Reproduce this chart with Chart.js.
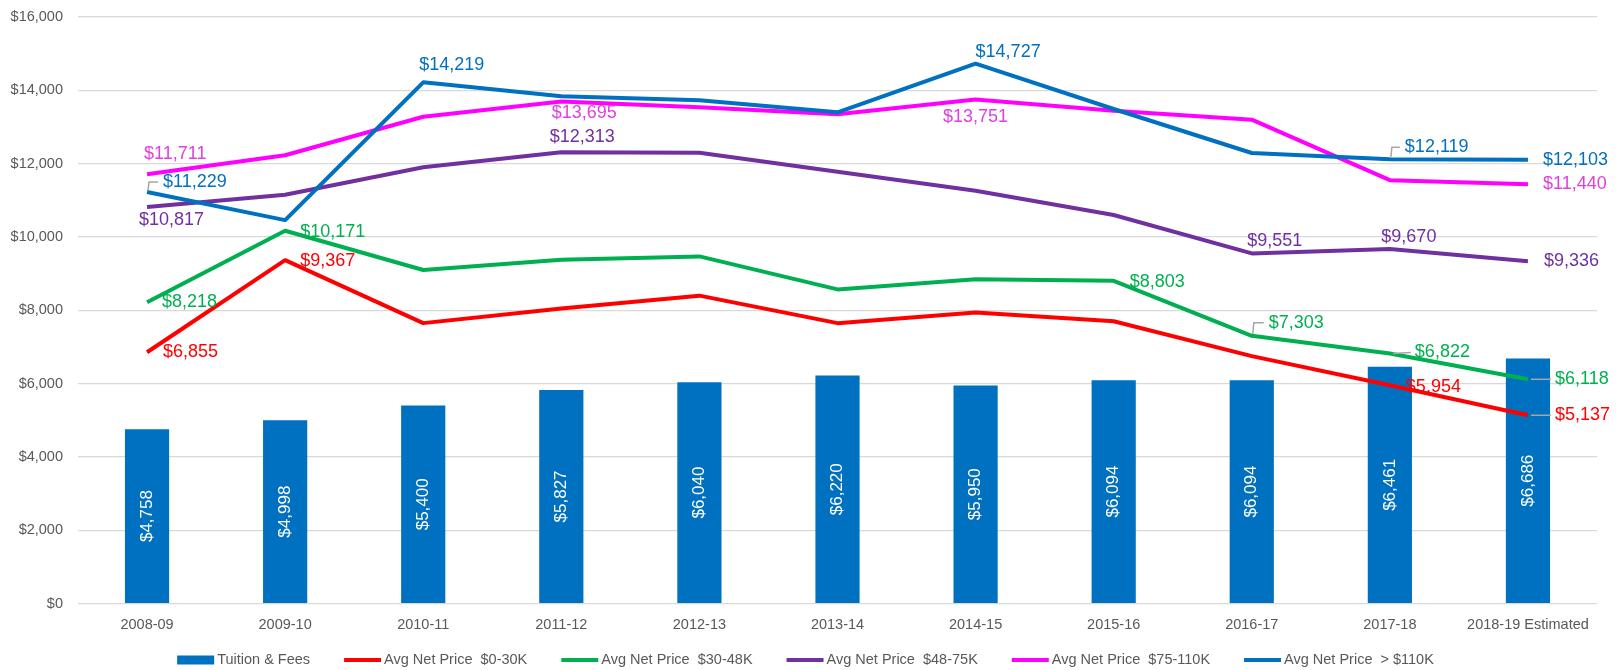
<!DOCTYPE html>
<html>
<head>
<meta charset="utf-8">
<script src="https://cdn.jsdelivr.net/npm/chart.js@4.4.1/dist/chart.umd.min.js"></script>
<style>
  html, body { margin: 0; padding: 0; background: #fff; }
  #wrap { width: 1623px; height: 670px; position: relative; }
</style>
</head>
<body>
<div id="wrap"><canvas id="tuitionChart"></canvas></div>
<script>
// Data
const years = ['2008-09', '2009-10', '2010-11', '2011-12', '2012-13', '2013-14',
  '2014-15', '2015-16', '2016-17', '2017-18', '2018-19 Estimated'];
const tuitionFees = [4758, 4998, 5400, 5827, 6040, 6220, 5950, 6094, 6094, 6461, 6686];
const net0to30 = [6855, 9367, 7650, 8050, 8400, 7650, 7940, 7700, 6750, 5954, 5137];
const net30to48 = [8218, 10171, 9100, 9380, 9470, 8570, 8850, 8803, 7303, 6822, 6118];
const net48to75 = [10817, 11150, 11900, 12313, 12300, 11780, 11260, 10600, 9551, 9670, 9336];
const net75to110 = [11711, 12230, 13280, 13695, 13540, 13350, 13751, 13440, 13200, 11550, 11440];
const netOver110 = [11229, 10460, 14219, 13840, 13730, 13400, 14727, 13490, 12290, 12119, 12103];
const yTicks = [0, 2000, 4000, 6000, 8000, 10000, 12000, 14000, 16000];

const FONT = "'Liberation Sans', Arial, sans-serif";
const AXIS_GREY = '#595959';

function money(v) {
  return '$' + v.toLocaleString('en-US');
}

// which points get a label, and where it sits relative to the point: [dx, dy, align, leader]
const labelSpots = [
  null, // bars handled separately
  { 0: [16, 0, 'left'], 1: [15, 1, 'left'], 9: [16, 2, 'left'], 10: [27, 0, 'left', 'flat'] },
  { 0: [15, 0, 'left'], 1: [15, 1, 'left'], 7: [16, 1, 'left'], 8: [17, -13, 'left', 'bracket'],
    9: [25, -1, 'left', 'flat'], 10: [27, 0, 'left', 'flat'] },
  { 0: [-8, 13, 'left'], 3: [21, -15, 'center'], 8: [23, -12, 'center'], 9: [19, -12, 'center'],
    10: [16, 0, 'left'] },
  { 0: [-3, -20, 'left'], 3: [23, 12, 'center'], 6: [0, 18, 'center'], 10: [15, 0, 'left'] },
  { 0: [16, -10, 'left', 'bracket'], 2: [-4, -17, 'left'], 6: [0, -12, 'left'],
    9: [15, -12, 'left', 'bracket'], 10: [15, 0, 'left'] }
];
const labelColors = [null, '#FF0000', '#00B050', '#7030A0', '#E040E0', '#0070C0'];

const valueLabels = {
  id: 'valueLabels',
  afterDatasetsDraw(chart) {
    const ctx = chart.ctx;
    ctx.save();
    // bar values, rotated inside the bars
    const barMeta = chart.getDatasetMeta(0);
    ctx.font = '17px ' + FONT;
    ctx.fillStyle = '#FFFFFF';
    ctx.textAlign = 'center';
    ctx.textBaseline = 'middle';
    barMeta.data.forEach((bar, i) => {
      const cy = (bar.y + bar.base) / 2;
      ctx.save();
      ctx.translate(bar.x, cy);
      ctx.rotate(-Math.PI / 2);
      ctx.fillText(money(chart.data.datasets[0].data[i]), 0, 0);
      ctx.restore();
    });

    // line labels
    ctx.font = '18px ' + FONT;
    for (let d = 1; d < chart.data.datasets.length; d++) {
      const meta = chart.getDatasetMeta(d);
      const spots = labelSpots[d];
      Object.keys(spots).forEach(k => {
        const i = Number(k);
        const pt = meta.data[i];
        const [dx, dy, align, leader] = spots[k];
        const lx = pt.x + dx;
        const ly = pt.y + dy;
        if (leader) {
          ctx.strokeStyle = '#A6A6A6';
          ctx.lineWidth = 1.5;
          ctx.beginPath();
          if (leader === 'bracket') {
            ctx.moveTo(pt.x + 1, pt.y - 2);
            ctx.lineTo(pt.x + 2, ly);
            ctx.lineTo(lx - 5, ly);
          } else {
            ctx.moveTo(pt.x + 3, pt.y);
            ctx.lineTo(lx - 4, ly);
          }
          ctx.stroke();
        }
        ctx.fillStyle = labelColors[d];
        ctx.textAlign = align;
        ctx.fillText(money(chart.data.datasets[d].data[i]), lx, ly);
      });
    }
    ctx.restore();
  }
};

const bottomLegend = {
  id: 'bottomLegend',
  afterDraw(chart) {
    const ctx = chart.ctx;
    const sets = chart.data.datasets;
    const symW = 37, gap = 3, itemGap = 34, y = 660;
    ctx.save();
    ctx.font = '14.5px ' + FONT;
    ctx.textBaseline = 'middle';
    ctx.textAlign = 'left';
    let total = 0;
    sets.forEach((ds, i) => {
      total += symW + gap + ctx.measureText(ds.label).width + (i < sets.length - 1 ? itemGap : 0);
    });
    let x = (chart.width - total) / 2 - 6;
    sets.forEach(ds => {
      if (ds.type === 'bar') {
        ctx.fillStyle = ds.backgroundColor;
        ctx.fillRect(x, y - 4.5, symW, 9);
      } else {
        ctx.strokeStyle = ds.borderColor;
        ctx.lineWidth = 4;
        ctx.beginPath();
        ctx.moveTo(x, y);
        ctx.lineTo(x + symW, y);
        ctx.stroke();
      }
      x += symW + gap;
      ctx.fillStyle = AXIS_GREY;
      ctx.fillText(ds.label, x, y);
      x += ctx.measureText(ds.label).width + itemGap;
    });
    ctx.restore();
  }
};

function lineSet(label, data, color, order) {
  return {
    type: 'line',
    label: label,
    data: data,
    borderColor: color,
    backgroundColor: color,
    borderWidth: 4,
    pointRadius: 0,
    tension: 0,
    borderJoinStyle: 'round',
    fill: false,
    order: order
  };
}

document.addEventListener('DOMContentLoaded', function() {
  const ctx = document.getElementById('tuitionChart').getContext('2d');
  new Chart(ctx, {
    type: 'bar',
    data: {
      labels: years,
      datasets: [
        {
          type: 'bar',
          label: 'Tuition & Fees',
          data: tuitionFees,
          backgroundColor: '#0070C0',
          borderWidth: 0,
          categoryPercentage: 1,
          barPercentage: 0.32,
          order: 6
        },
        lineSet('Avg Net Price  $0-30K', net0to30, '#FF0000', 5),
        lineSet('Avg Net Price  $30-48K', net30to48, '#00B050', 4),
        lineSet('Avg Net Price  $48-75K', net48to75, '#7030A0', 3),
        lineSet('Avg Net Price  $75-110K', net75to110, '#FF00FF', 2),
        lineSet('Avg Net Price  > $110K', netOver110, '#0070C0', 1)
      ]
    },
    options: {
      responsive: true,
      maintainAspectRatio: false,
      animation: false,
      layout: {
        padding: { top: 17, left: 10, right: 26, bottom: 23 }
      },
      plugins: {
        legend: { display: false },
        tooltip: { enabled: false }
      },
      scales: {
        x: {
          offset: true,
          grid: { display: false, drawTicks: false },
          border: { display: false },
          ticks: {
            color: AXIS_GREY,
            font: { family: FONT, size: 14.5 },
            padding: 13,
            maxRotation: 0,
            autoSkip: false
          }
        },
        y: {
          min: 0,
          max: 16000,
          afterBuildTicks: function(axis) {
            axis.ticks = yTicks.map(v => ({ value: v }));
          },
          afterFit: function(axis) {
            axis.width = 68;
            axis.paddingTop = 8;
            axis.paddingBottom = 8;
          },
          grid: { color: '#D9D9D9', lineWidth: 1.3, drawTicks: false },
          border: { display: false },
          ticks: {
            color: AXIS_GREY,
            font: { family: FONT, size: 14.5 },
            padding: 15,
            callback: function(value) {
              return money(value);
            }
          }
        }
      }
    },
    plugins: [valueLabels, bottomLegend]
  });
});
</script>
</body>
</html>
